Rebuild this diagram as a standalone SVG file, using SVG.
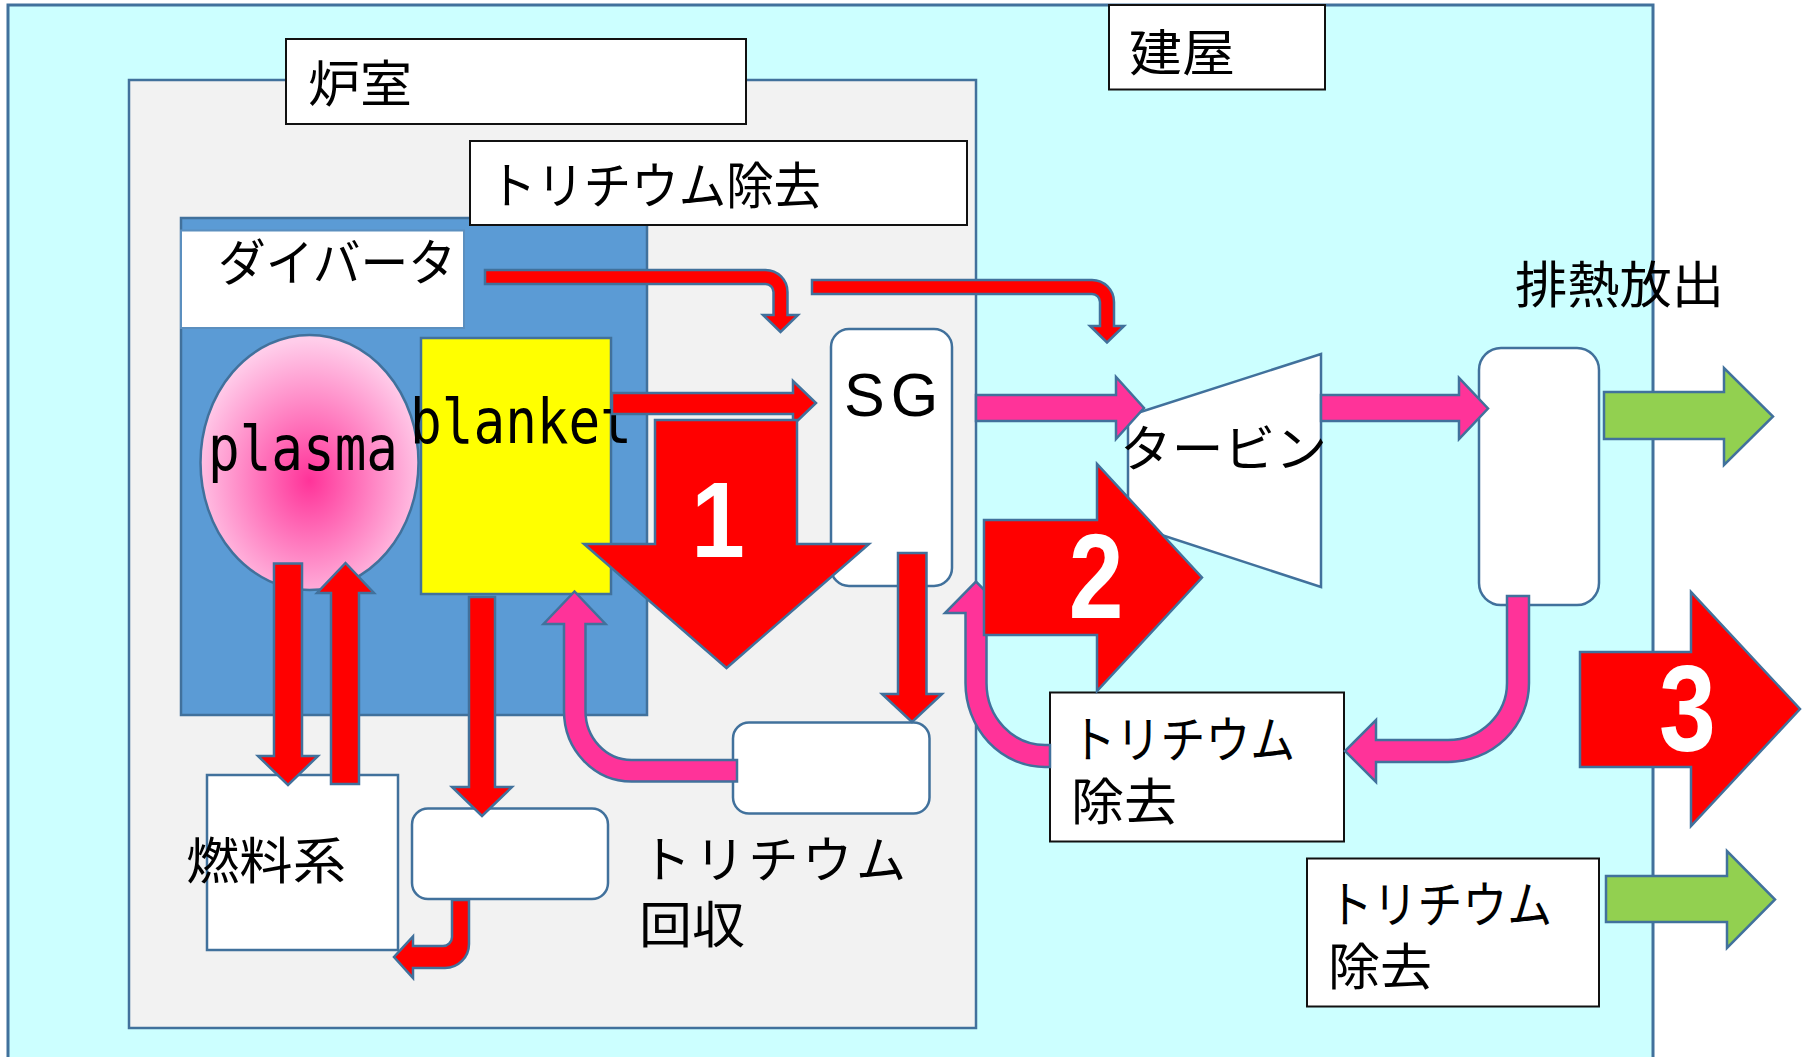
<svg xmlns="http://www.w3.org/2000/svg" width="1804" height="1057" viewBox="0 0 1804 1057">
<style>
.ol{stroke:#41719c;stroke-width:2.5;stroke-linejoin:miter}
.red{fill:#ff0000}
.pink{fill:#ff3399}
.green{fill:#92d050}
.wb{fill:#ffffff;stroke:#41719c;stroke-width:2.5}
.lbl{fill:#ffffff;stroke:#111111;stroke-width:2}
.jp{font-family:"Noto Sans CJK JP","Noto Sans CJK SC",sans-serif;font-size:50px;fill:#000000}
.mono{font-family:"DejaVu Sans Mono","Liberation Mono",monospace;font-size:62px;fill:#000000}
.num{font-family:"Liberation Sans",Arial,sans-serif;font-weight:bold;fill:#ffffff;text-anchor:middle}
</style>
<defs>
<radialGradient id="pg" cx="50%" cy="57%" r="55%">
<stop offset="0" stop-color="#ff3399"/>
<stop offset="1" stop-color="#ffcdea"/>
</radialGradient>
</defs>

<g id="building">
<rect x="8" y="5" width="1645" height="1065" fill="#ccffff" stroke="#41719c" stroke-width="3"/>
</g>
<g id="building-label">
<rect class="lbl" x="1109" y="5" width="216" height="84.5"/>
<text class="jp" x="1129" y="71" textLength="106" lengthAdjust="spacingAndGlyphs">建屋</text>
</g>
<g id="reactor-room">
<rect x="129" y="80" width="847" height="948" fill="#f2f2f2" stroke="#41719c" stroke-width="2.5"/>
</g>
<g id="reactor-room-label">
<rect class="lbl" x="286" y="39" width="460" height="85"/>
<text class="jp" x="308" y="102" textLength="104" lengthAdjust="spacingAndGlyphs">炉室</text>
</g>
<g id="core">
<rect x="181" y="218" width="466" height="497" fill="#5b9bd5" stroke="#41719c" stroke-width="2.5"/>
</g>
<g id="tritium-removal-top">
<rect class="lbl" x="470" y="141" width="497" height="84"/>
<text class="jp" x="489" y="204" textLength="332" lengthAdjust="spacingAndGlyphs">トリチウム除去</text>
</g>
<g id="divertor">
<rect x="181" y="230.5" width="283" height="97.5" fill="#ffffff" stroke="#5b8fbf" stroke-width="2"/>
<text class="jp" x="218" y="281" textLength="238" lengthAdjust="spacingAndGlyphs">ダイバータ</text>
</g>
<g id="plasma">
<ellipse cx="309.5" cy="462.5" rx="109" ry="127.5" fill="url(#pg)" stroke="#41719c" stroke-width="2.5"/>
<text class="mono" x="208" y="470" textLength="190" lengthAdjust="spacingAndGlyphs">plasma</text>
</g>
<g id="blanket">
<rect x="421" y="338" width="190" height="256" fill="#ffff00" stroke="#41719c" stroke-width="2.5"/>
<text class="mono" x="410" y="443" textLength="222" lengthAdjust="spacingAndGlyphs">blanket</text>
</g>
<g id="sg">
<rect class="wb" x="831" y="329" width="121" height="257" rx="18"/>
<text x="844" y="416" font-family="'Liberation Sans',Arial,sans-serif" font-size="61" letter-spacing="6">SG</text>
</g>
<g id="turbine">
<polygon points="1128,416 1321,354 1321,587 1128,524" fill="#ffffff" stroke="#41719c" stroke-width="2.5"/>
<text class="jp" x="1120" y="467" textLength="207" lengthAdjust="spacingAndGlyphs">タービン</text>
</g>
<g id="exhaust">
<rect class="wb" x="1479" y="348" width="120" height="257" rx="22"/>
<text class="jp" x="1515" y="303" textLength="209" lengthAdjust="spacingAndGlyphs">排熱放出</text>
</g>
<g id="fuel-system">
<rect class="wb" x="207" y="775" width="191" height="175"/>
<text class="jp" x="186" y="879" textLength="160" lengthAdjust="spacingAndGlyphs">燃料系</text>
</g>
<g id="tritium-recovery">
<rect class="wb" x="412" y="808.5" width="196" height="90.5" rx="16"/>
<text class="jp" x="641" y="878" textLength="265" lengthAdjust="spacing">トリチウム</text>
<text class="jp" x="639" y="943" textLength="106" lengthAdjust="spacingAndGlyphs">回収</text>
</g>
<g id="middle-box">
<rect class="wb" x="733" y="722.5" width="196.5" height="91" rx="16"/>
</g>
<g id="tritium-removal-2">
<rect class="lbl" x="1050" y="692.5" width="294" height="149"/>
<text class="jp" x="1071" y="758" textLength="224" lengthAdjust="spacingAndGlyphs">トリチウム</text>
<text class="jp" x="1071" y="820" textLength="106" lengthAdjust="spacingAndGlyphs">除去</text>
</g>
<g id="tritium-removal-3">
<rect class="lbl" x="1307" y="858.5" width="292" height="148"/>
<text class="jp" x="1328" y="923" textLength="224" lengthAdjust="spacingAndGlyphs">トリチウム</text>
<text class="jp" x="1328" y="985" textLength="104" lengthAdjust="spacingAndGlyphs">除去</text>
</g>

<g id="connectors">
<path class="red ol" d="M485 270 H765.5 A22 22 0 0 1 787.5 292 V315 H798 L780.5 332 L763 315 H773.5 V292 A8 8 0 0 0 765.5 284 H485 Z"/>
<path class="red ol" d="M812 280 H1092 A22 22 0 0 1 1114 302 V326 H1124 L1107 342.5 L1090 326 H1100 V302 A8 8 0 0 0 1092 294 H812 Z"/>
<path class="red ol" d="M612 393 H793 V381 L816 403 L793 425 V414 H612 Z"/>
<path class="pink ol" d="M737 760 H631.5 A46 49 0 0 1 585.5 711 V624 H605.5 L574.5 591.5 L543.5 624 H564 V711 A67.5 70.5 0 0 0 631.5 781.5 H737 Z"/>
<path class="red ol" d="M274 563.5 H302 V756 H318 L288 785 L258 756 H274 Z"/>
<path class="red ol" d="M331 784 H359 V593 H374 L345.5 563 L317 593 H331 Z"/>
<path class="red ol" d="M469 597 H495 V787 H512 L482 816 L452 787 H469 Z"/>
<path class="red ol" d="M452 900 H469 V944 A24 24 0 0 1 445 968 H413 V978 L394 957 L413 936.5 V946 H443 A9 9 0 0 0 452 937 Z"/>
<path class="red ol" d="M898 553 H926.5 V694 H942 L912 722 L882 694 H898 Z"/>
<path class="red ol" d="M655 420 H797 V544 H869 L726.5 668 L584 544 H655 Z"/>
<path class="pink ol" d="M976 395 H1116 V377 L1144 408 L1116 439 V421 H976 Z"/>
<path class="pink ol" d="M1321 395 H1459 V378 L1488 408.5 L1459 439 V421 H1321 Z"/>
<path class="pink ol" d="M1507 596 H1529 V683 A81 79 0 0 1 1448 762 H1376 V782 L1345 751 L1376 720 V740 H1448 A59 57 0 0 0 1507 683 Z"/>
<path class="pink ol" d="M1050 745 H1045 A58.5 62 0 0 1 986.5 683 V613 H1007 L976 581.5 L945 613 H965.5 V683 A79.5 84 0 0 0 1045 767 H1050 Z"/>
<path class="red ol" d="M984 520 H1097 V464 L1202 577.5 L1097 691 V635 H984 Z"/>
<path class="green ol" d="M1604 392 H1724 V368 L1773 416.5 L1724 465 V439 H1604 Z"/>
<path class="green ol" d="M1606 876 H1727 V851 L1775 899.5 L1727 948 V922 H1606 Z"/>
<path class="red ol" d="M1580 652 H1691 V592 L1800 709 L1691 826 V767 H1580 Z"/>
<text class="num" font-size="107" transform="translate(718,556.5) scale(0.9,1)">1</text>
<text class="num" font-size="120" transform="translate(1096,618) scale(0.82,1)">2</text>
<text class="num" font-size="123" transform="translate(1687.5,751) scale(0.83,1)">3</text>
</g>
</svg>
